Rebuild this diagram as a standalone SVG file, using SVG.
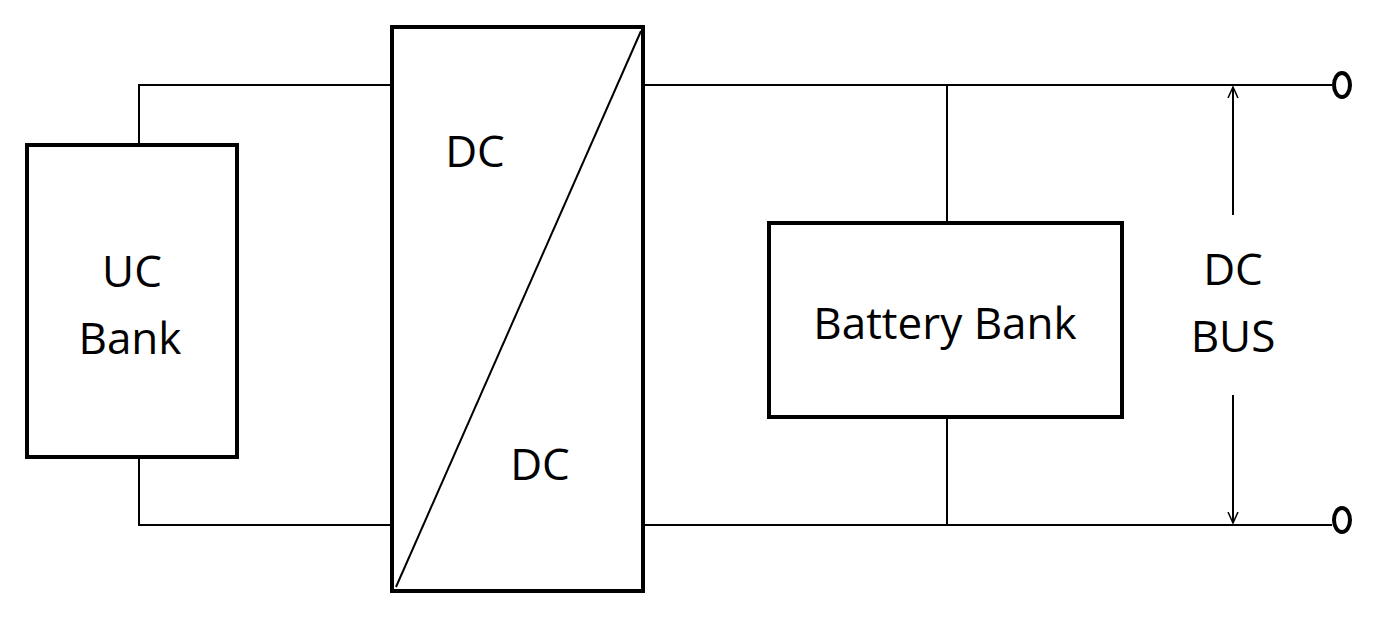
<svg xmlns="http://www.w3.org/2000/svg" width="1381" height="617" viewBox="0 0 1381 617">
<defs>
<style>
.box{fill:#fff;stroke:#000;stroke-width:4}
.w{fill:none;stroke:#000;stroke-width:2}
text{font-family:"Open Sans","Liberation Sans",sans-serif;font-size:44px;fill:#000;text-anchor:middle}
</style>
<marker id="ah" viewBox="0 0 12 12" refX="11" refY="6" markerWidth="12" markerHeight="12" markerUnits="userSpaceOnUse" orient="auto">
<path d="M0,1 L11,6 L0,11" fill="none" stroke="#000" stroke-width="1.5"/>
</marker>
</defs>
<rect width="1381" height="617" fill="#fff"/>
<g id="connectors">
<path class="w" d="M139,145 V85 H392 M139,457 V525 H392"/>
<path class="w" d="M643,85 H1332 M643,525 H1332"/>
<path class="w" d="M947,85 V223 M947,417 V525"/>
<path class="w" d="M1233,215 V87" marker-end="url(#ah)"/>
<path class="w" d="M1233,395 V523" marker-end="url(#ah)"/>
<ellipse cx="1342" cy="85" rx="8" ry="12" fill="#fff" stroke="#000" stroke-width="4"/>
<ellipse cx="1342" cy="520" rx="8" ry="12" fill="#fff" stroke="#000" stroke-width="4"/>
</g>
<g id="uc">
<rect class="box" x="27" y="145" width="210" height="312"/>
<text x="132" y="287">UC</text>
<text x="130" y="354">Bank</text>
</g>
<g id="converter">
<rect class="box" x="392" y="27" width="251" height="564"/>
<path class="w" d="M396,587 L641,31"/>
<text x="475" y="167">DC</text>
<text x="540" y="480">DC</text>
</g>
<g id="battery">
<rect class="box" x="769" y="223" width="353" height="194"/>
<text x="945" y="339">Battery Bank</text>
</g>
<g id="dcbus">
<text x="1233" y="285">DC</text>
<text x="1233" y="352">BUS</text>
</g>
</svg>
